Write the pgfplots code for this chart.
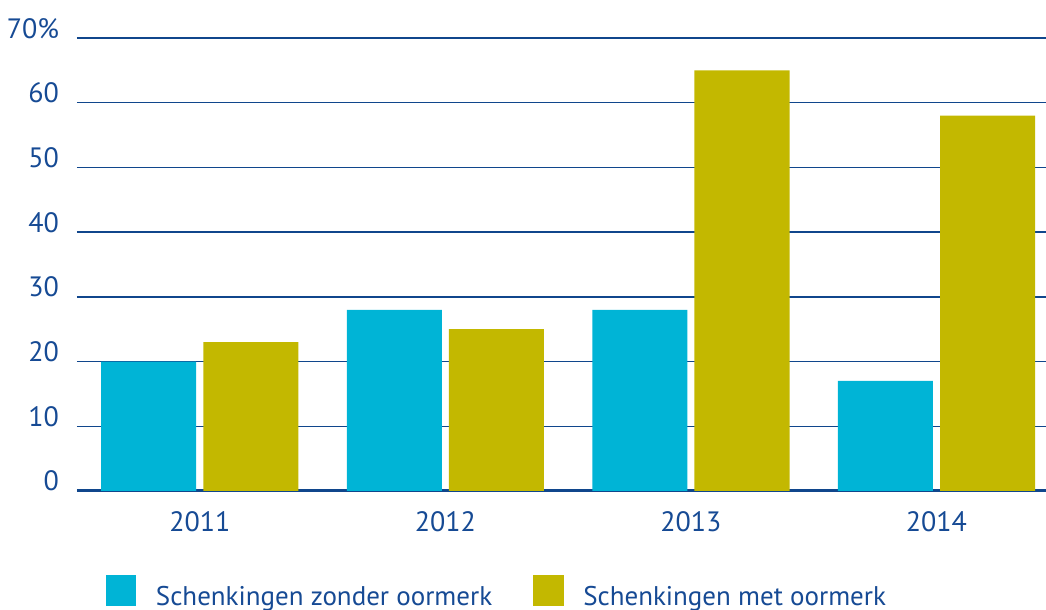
\documentclass[border=0pt]{standalone}
\usepackage{fontspec}
\setmainfont{PT Sans}
\usepackage{pgfplots}
\pgfplotsset{compat=1.18}
\definecolor{cyanbar}{RGB}{0,180,214}
\definecolor{olivebar}{RGB}{195,184,0}
\definecolor{navytext}{RGB}{22,74,148}
\definecolor{navyline}{RGB}{16,70,140}
\begin{document}
\begin{tikzpicture}
\begin{axis}[
  scale only axis,
  width=484.5pt, height=226.5pt,
  xmin=-0.5, xmax=3.446,
  ymin=0, ymax=70,
  ytick={0,10,20,30,40,50,60,70},
  yticklabels={0,10,20,30,40,50,60,70\%},
  xtick={0,1,2,3},
  xticklabels={2011,2012,2013,2014},
  major tick length=0pt,
  axis x line*=bottom,
  axis y line*=left,
  y axis line style={draw=none},
  x axis line style={line width=1.5pt, color=navyline, -},
  ymajorgrids,
  grid style={line width=0.75pt, color=navyline},
  /pgf/number format/assume math mode=true,
  tick label style={font=\fontsize{14}{16}\selectfont, text=navytext, inner sep=0pt},
  yticklabel style={anchor=base east, xshift=-8.8pt},
  xticklabel style={anchor=base, yshift=-20.5pt},
  ybar,
  bar width=0.387,
  legend columns=2,
  legend image code/.code={\fill[#1] (0pt,0pt) rectangle (15.25pt,15.5pt);},
  legend style={draw=none, fill=none, inner sep=0pt, outer sep=0pt,
    at={(axis description cs:0.0299,-0.1854)}, anchor=north west,
    font=\fontsize{13.5}{16}\selectfont, text=navytext,
    cells={anchor=base west}, nodes={inner sep=0pt},
    /tikz/every odd column/.append style={column sep=9.75pt},
    /tikz/every even column/.append style={column sep=20.5pt}},
]
\addplot[fill=cyanbar, draw=none, bar shift=-0.208] coordinates {(0,20) (1,28) (2,28) (3,17)};
\addplot[fill=olivebar, draw=none, bar shift=0.208] coordinates {(0,23) (1,25) (2,65) (3,58)};
\legend{Schenkingen zonder oormerk, Schenkingen met oormerk}
\end{axis}
\pgfresetboundingbox
\path[use as bounding box] (-38.5pt,-59.5pt) rectangle (484.5pt,245.5pt);
\end{tikzpicture}
\end{document}
